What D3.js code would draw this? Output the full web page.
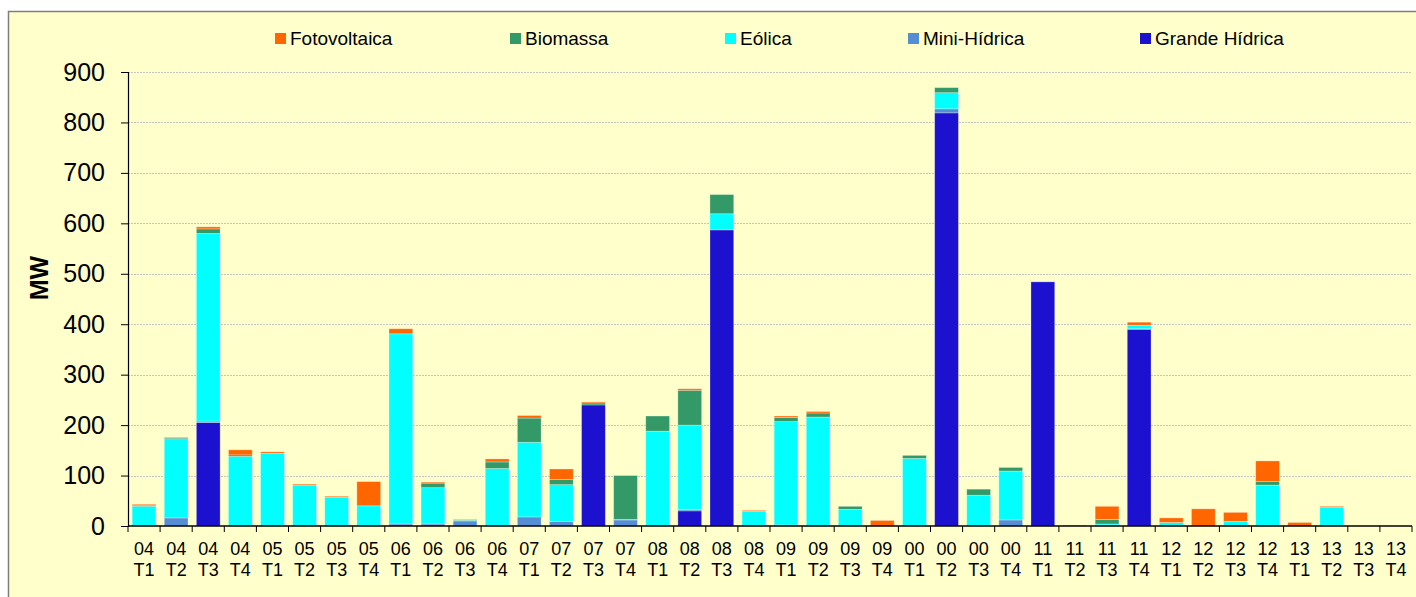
<!DOCTYPE html>
<html><head><meta charset="utf-8">
<script src="https://cdn.jsdelivr.net/npm/d3@7"></script>
<style>
html,body{margin:0;padding:0;background:#fff;}
svg{display:block;font-family:"Liberation Sans",Arial,sans-serif;}
</style></head>
<body>
<svg id="chart" width="1416" height="597"></svg>
<script>
// ---- data ----
const years    = ["04","04","04","04","05","05","05","05","06","06","06","06","07","07","07","07","08","08","08","08","09","09","09","09","00","00","00","00","11","11","11","11","12","12","12","12","13","13","13","13"];
const quarters = ["T1","T2","T3","T4","T1","T2","T3","T4","T1","T2","T3","T4","T1","T2","T3","T4","T1","T2","T3","T4","T1","T2","T3","T4","T1","T2","T3","T4","T1","T2","T3","T4","T1","T2","T3","T4","T1","T2","T3","T4"];
const grandeHidrica = [0,0,205,0, 0,0,0,0, 0,0,0,0, 0,0,240,0, 0,30,587,0, 0,0,0,0, 0,819,0,0, 484,0,0,390, 0,0,0,0, 0,0,0,0];
const miniHidrica   = [0,16,3,0, 0,0,0,1, 4,4,10,0, 18,9,0,12, 0,3,0,0, 2,0,0,0, 0,8,0,12, 0,0,0,1, 0,0,0,0, 0,0,0,0];
const eolica        = [39,157,372,138, 144,81,57,39, 377,72,1,114, 148,73,0,1, 188,167,32,29, 205,216,33,0, 134,32,61,97, 0,0,4,7, 7,0,9,81, 0,37,0,0];
const biomassa      = [2,2,9,3, 0,0,0,0, 0,9,1,13, 48,10,4,87, 30,69,38,0, 8,8,6,0, 6,10,12,7, 0,1,9,0, 0,0,0,7, 0,0,0,0];
const fotovoltaica  = [2,1,4,10, 3,2,2,48, 10,2,1,6, 5,21,2,0, 0,3,0,2, 3,3,0,11, 0,0,0,0, 0,0,26,6, 9,34,18,41, 7,2,0,0];
const seriesNames  = ["Grande Hídrica","Mini-Hídrica","Eólica","Biomassa","Fotovoltaica"];
const seriesValues = [grandeHidrica, miniHidrica, eolica, biomassa, fotovoltaica];
const seriesColors = ["#1B11CE","#558ED5","#00FFFF","#339966","#FF6600"];
const legendOrder  = ["Fotovoltaica","Biomassa","Eólica","Mini-Hídrica","Grande Hídrica"];
const yTicks = [0,100,200,300,400,500,600,700,800,900];
const yLabel = "MW";

// ---- layout ----
const svg = d3.select("#chart");
const pLeft = 128, pRight = 1412, pTop = 72, pBottom = 526;
const legendX = [275, 510, 725, 908, 1140];

svg.append("rect").attr("x",8.5).attr("y",11.5).attr("width",1416).attr("height",600)
  .attr("fill","#FFFFCC").attr("stroke","#7f7f7f").attr("stroke-width",1.5);

const idx = d3.range(years.length);
const x = d3.scaleBand().domain(idx).range([pLeft,pRight]).paddingInner(0.26).paddingOuter(0.13);
const y = d3.scaleLinear().domain([0,900]).range([pBottom,pTop]);

// gridlines
svg.append("g").selectAll("line").data(yTicks.filter(d=>d>0)).join("line")
  .attr("x1",pLeft).attr("x2",pRight)
  .attr("y1",d=>Math.round(y(d))+0.5).attr("y2",d=>Math.round(y(d))+0.5)
  .attr("stroke","#c4c4c4").attr("stroke-width",1).attr("stroke-dasharray","2,1");

// stacked data
const rows = idx.map(i=>{const r={i}; seriesNames.forEach((n,k)=>r[n]=seriesValues[k][i]); return r;});
const stack = d3.stack().keys(seriesNames)(rows);

svg.append("g").selectAll("g").data(stack).join("g")
  .attr("fill",(d,k)=>seriesColors[k])
  .selectAll("rect").data(d=>d.filter(p=>p[1]-p[0]>0)).join("rect")
  .attr("x",d=>x(d.data.i)).attr("width",x.bandwidth())
  .attr("y",d=>y(d[1])).attr("height",d=>y(d[0])-y(d[1]))
  .attr("stroke","rgba(255,255,255,0.35)").attr("stroke-width",0.8);

// y axis
const yAxis = svg.append("g").attr("transform",`translate(${pLeft},0)`)
  .call(d3.axisLeft(y).tickValues(yTicks).tickSize(7).tickPadding(16));
yAxis.select(".domain").attr("stroke","#000").attr("stroke-width",1.2);
yAxis.selectAll(".tick line").attr("stroke","#000");
yAxis.selectAll("text").attr("font-size","25px").attr("fill","#000")
  .attr("font-family","'Liberation Sans',Arial,sans-serif");

// x axis
const step = x.step();
const xg = svg.append("g");
xg.append("line").attr("x1",pLeft).attr("x2",pRight).attr("y1",pBottom).attr("y2",pBottom)
  .attr("stroke","#000").attr("stroke-width",1.5);
xg.selectAll("line.t").data(d3.range(years.length+1)).join("line").attr("class","t")
  .attr("x1",i=>pLeft+i*step).attr("x2",i=>pLeft+i*step)
  .attr("y1",pBottom).attr("y2",pBottom+6).attr("stroke","#000");
const lbl = xg.selectAll("text").data(idx).join("text")
  .attr("text-anchor","middle").attr("font-size","18px").attr("fill","#000");
lbl.append("tspan").attr("x",i=>x(i)+x.bandwidth()/2).attr("y",555).text(i=>years[i]);
lbl.append("tspan").attr("x",i=>x(i)+x.bandwidth()/2).attr("y",576).text(i=>quarters[i]);

// y label
svg.append("text").attr("transform","translate(48,278) rotate(-90)")
  .attr("text-anchor","middle").attr("font-size","25px").attr("font-weight","bold")
  .attr("fill","#000").text(yLabel);

// legend
const lg = svg.append("g").selectAll("g").data(legendOrder).join("g")
  .attr("transform",(d,i)=>`translate(${legendX[i]},33)`);
lg.append("rect").attr("width",11).attr("height",11)
  .attr("fill",d=>seriesColors[seriesNames.indexOf(d)]);
lg.append("text").attr("x",15).attr("y",12).attr("font-size","19px").attr("fill","#000").text(d=>d);
</script>
</body></html>
